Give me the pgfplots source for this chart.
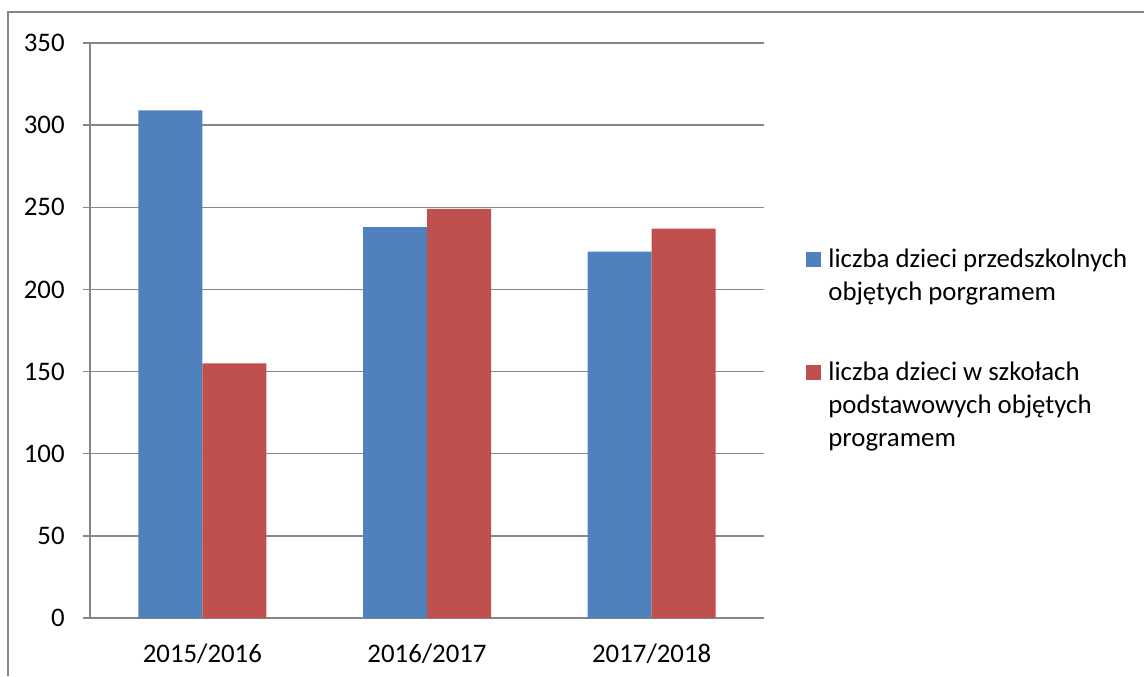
\documentclass[border=0pt]{standalone}
\usepackage{pgfplots}
\pgfplotsset{compat=1.18}
\usepackage{fontspec}
\setmainfont{Carlito}
\definecolor{barblue}{HTML}{4F81BD}
\definecolor{barred}{HTML}{C0504D}
\definecolor{gridgray}{HTML}{868686}
\newcommand{\lfont}{\fontsize{13.4}{16.5}\selectfont}
\begin{document}
\begin{tikzpicture}
\useasboundingbox (0pt,0pt) rectangle (572pt,338pt);
\draw[gridgray, line width=0.75pt] (4pt,0pt) -- (4pt,332pt) -- (575pt,332pt);
\begin{axis}[
  at={(45pt,29pt)}, anchor=south west,
  scale only axis, width=337pt, height=287.5pt,
  font=\lfont,
  /pgf/number format/assume math mode=true,
  ybar=0pt, bar width=32pt,
  xmin=-0.5, xmax=2.5, ymin=0, ymax=350,
  ytick={0,50,...,350},
  xtick={0,1,2},
  xticklabels={2015/2016,2016/2017,2017/2018},
  major x tick style={draw=none},
  extra x ticks={-0.5,0.5,1.5,2.5},
  extra x tick labels={},
  extra x tick style={major tick length=3.5pt, tick style={gridgray, line width=0.75pt}},
  tick align=outside, major tick length=3.5pt,
  y tick style={gridgray, line width=0.75pt},
  axis x line*=bottom, axis y line*=left,
  axis line style={gridgray, line width=0.75pt, -},
  ymajorgrids, grid style={gridgray, line width=0.75pt},
  yticklabel style={inner sep=0pt, xshift=-9pt},
  xticklabel style={inner sep=0pt, yshift=-9pt},
  legend style={at={(1.0623,0.6506)}, anchor=north west, draw=none, fill=none,
    inner sep=0pt, row sep=23.5pt, column sep=0pt,
    nodes={inner sep=0pt, anchor=base west, text depth=},
    font=\lfont},
  legend cell align=left,
  legend image code/.code={\fill[#1,draw=none] (0pt,0pt) rectangle (7.5pt,7.5pt);},
]
\addplot[fill=barblue, draw=none] coordinates {(0,309) (1,238) (2,223)};
\addlegendentry{\hspace*{3.5pt}\begin{tabular}[t]{@{}l@{}}liczba dzieci przedszkolnych\\objętych porgramem\end{tabular}}
\addplot[fill=barred, draw=none] coordinates {(0,155) (1,249) (2,237)};
\addlegendentry{\hspace*{3.5pt}\begin{tabular}[t]{@{}l@{}}liczba dzieci w szkołach\\podstawowych objętych\\programem\end{tabular}}
\end{axis}
\end{tikzpicture}
\end{document}
